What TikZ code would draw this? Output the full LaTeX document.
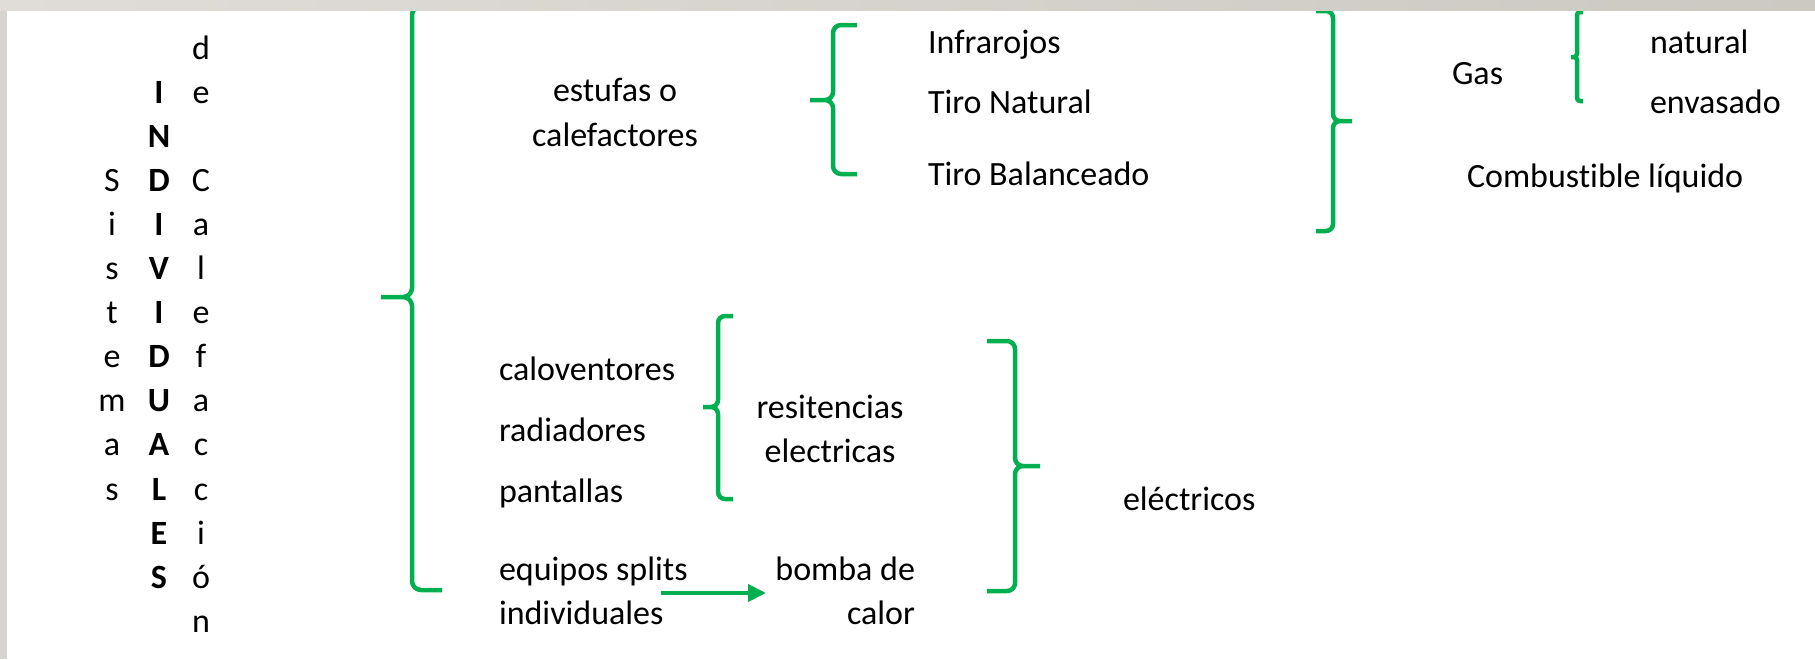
\documentclass[tikz,border=0pt]{standalone}
\usepackage{fontspec}
\setmainfont{Carlito}[Ligatures={NoCommon}]
\usetikzlibrary{arrows.meta}
\definecolor{brgreen}{RGB}{0,176,80}
\definecolor{bandL}{RGB}{224,221,216}
\definecolor{bandR}{RGB}{204,200,194}
\definecolor{stripC}{RGB}{216,213,208}
\tikzset{
  txt/.style={inner sep=0pt, outer sep=0pt, font=\fontsize{17}{20}\selectfont},
  brc/.style={draw=brgreen, line width=2.25pt, line join=round, line cap=butt},
  arr/.style={draw=brgreen, line width=2pt, -{Triangle[length=9pt,width=8.5pt]}}
}
% left-opening brace: xl top mid bot tipx hookx r
\newcommand{\myLB}[7]{%
  \draw[brc] (#6,#2) -- ({#1+#7},#2) to[out=180,in=90] (#1,{#2+#7}) -- (#1,{#3-#7}) to[out=270,in=0] ({#1-#7},#3) -- (#5,#3)
    ({#1-#7},#3) to[out=0,in=90] (#1,{#3+#7}) -- (#1,{#4-#7}) to[out=270,in=180] ({#1+#7},#4) -- (#6,#4);}
% right-opening brace
\newcommand{\myRB}[7]{%
  \draw[brc] (#6,#2) -- ({#1-#7},#2) to[out=0,in=90] (#1,{#2+#7}) -- (#1,{#3-#7}) to[out=270,in=180] ({#1+#7},#3) -- (#5,#3)
    ({#1+#7},#3) to[out=180,in=90] (#1,{#3+#7}) -- (#1,{#4-#7}) to[out=270,in=0] ({#1-#7},#4) -- (#6,#4);}
\begin{document}
\begin{tikzpicture}[x=0.5pt,y=-0.5pt]
\useasboundingbox (0,0) rectangle (1815,659);
\fill[white] (0,0) rectangle (1815,659);

% vertical title columns
\foreach \l [count=\k from 3] in {S,i,s,t,e,m,a,s}
  \node[txt,anchor=base] (sis\k) at (112,{59+44.1*\k}) {\l};
\foreach \l [count=\k from 1] in {I,N,D,I,V,I,D,U,A,L,E,S}
  \node[txt,anchor=base] (ind\k) at (159,{59+44.1*\k}) {\bfseries\l};
\node[txt,anchor=base] (cal0) at (201,59) {d};
\node[txt,anchor=base] (cal1) at (201,{59+44.1}) {e};
\foreach \l [count=\k from 3] in {C,a,l,e,f,a,c,c,i,ó,n}
  \node[txt,anchor=base] (cal\k) at (201,{59+44.1*\k}) {\l};

% upper branch
\node[txt,anchor=base] (est1) at (615,101) {estufas o};
\node[txt,anchor=base] (est2) at (615,146) {calefactores};
\node[txt,anchor=base west] (infra) at (928,53) {Infrarojos};
\node[txt,anchor=base west] (tnat) at (928,113) {Tiro Natural};
\node[txt,anchor=base west] (tbal) at (928,185) {Tiro Balanceado};
\node[txt,anchor=base west] (gas) at (1452,84) {Gas};
\node[txt,anchor=base west] (nat) at (1650,53) {natural};
\node[txt,anchor=base west] (env) at (1650,113) {envasado};
\node[txt,anchor=base west] (comb) at (1467,187) {Combustible líquido};

% lower branch
\node[txt,anchor=base west] (calov) at (499,380) {caloventores};
\node[txt,anchor=base west] (radi) at (499,441) {radiadores};
\node[txt,anchor=base west] (pant) at (499,502) {pantallas};
\node[txt,anchor=base west] (equi) at (499,580) {equipos splits};
\node[txt,anchor=base west] (indiv) at (499,624) {individuales};
\node[txt,anchor=base] (res1) at (830,418) {resitencias};
\node[txt,anchor=base] (res2) at (830,462) {electricas};
\node[txt,anchor=base east] (bom1) at (915,580) {bomba de};
\node[txt,anchor=base east] (bom2) at (915,624) {calor};
\node[txt,anchor=base west] (elec) at (1123,510) {eléctricos};

% braces
\myLB{412}{6}{297}{590}{381}{442}{9}
\myLB{833}{25}{100}{174}{810}{857}{8}
\myRB{1333}{11}{121}{231}{1352}{1316}{7}
\myLB{1577}{12}{57}{101}{1571}{1583}{3}
\myLB{718}{316}{407}{499}{703}{733}{7}
\myRB{1015}{341}{466}{591}{1040}{987}{8}

% arrow
\coordinate (aS) at (661,593);
\coordinate (aE) at (766,593);
\draw[arr] (aS) -- (aE);

% window frame
\shade[left color=bandL, right color=bandR] (0,0) rectangle (1815,10.5);
\fill[stripC] (0,10.5) rectangle (7,659);
\end{tikzpicture}
\end{document}
